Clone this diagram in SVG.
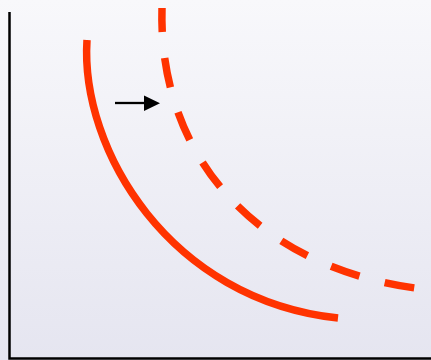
<svg xmlns="http://www.w3.org/2000/svg" width="431" height="360" viewBox="0 0 431 360">
  <defs>
    <linearGradient id="bg" x1="0" y1="0" x2="0" y2="1">
      <stop offset="0" stop-color="#f8f8fb"/>
      <stop offset="1" stop-color="#e5e5f0"/>
    </linearGradient>
    <style>
      .curve { fill: none; stroke: #ff3300; stroke-width: 7.5; }
      .dashed { stroke-dasharray: 30 26; stroke-dashoffset: 6; }
      .axis { fill: none; stroke: #000; stroke-width: 2.5; }
    </style>
  </defs>
  <rect width="431" height="360" fill="url(#bg)"/>
  <g id="axes">
    <path class="axis" d="M9.5,12 V358.5 H431"/>
  </g>
  <g id="demand">
    <path class="curve" d="M87,40 C80,150 170,300 338,318"/>
  </g>
  <g id="demand-shifted">
    <path class="curve dashed" d="M162,8 C158,150 250,265 415,288"/>
  </g>
  <g id="connectors">
    <path d="M115,103 H145" stroke="#000" stroke-width="2.3" fill="none"/>
    <path d="M144,95.5 L160,103.2 L144,111 Z" fill="#000"/>
  </g>
</svg>
